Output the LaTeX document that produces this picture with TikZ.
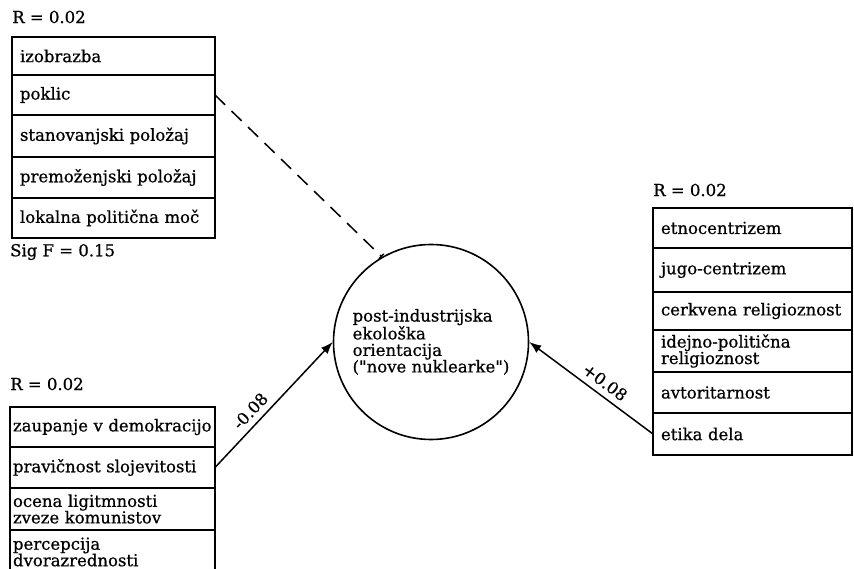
\documentclass[tikz,border=0pt]{standalone}
\usepackage{fontspec}
\setmainfont{DejaVu Serif}[Ligatures=TeXOff, FakeBold=0.7]
\usetikzlibrary{arrows.meta}
\newcommand\fs{\fontsize{16.5}{16.5}\selectfont}
\tikzset{
  rowbox/.style={draw, line width=1.6pt, anchor=north west, align=left,
    inner xsep=8pt, inner ysep=0pt, outer sep=0pt, font=\fs, text width=#1},
  lbl/.style={anchor=west, inner sep=0pt, font=\fs},
  conn/.style={line width=1.5pt},
  tip/.style={-{Latex[length=12pt,width=9pt]}},
  coef/.style={sloped, above, font=\fs, inner sep=6pt}
}
\begin{document}
\begin{tikzpicture}[x=1pt,y=-1pt]
\clip (0,0) rectangle (854,569);
\fill[white] (0,0) rectangle (854,569);

% top-left group
\node[lbl] (rt) at (12,17) {R = 0.02};
\node[rowbox=187pt, minimum height=38pt] (t1) at (12,37) {izobrazba};
\node[rowbox=187pt, minimum height=40pt] (t2) at (12,75) {poklic};
\node[rowbox=187pt, minimum height=42pt] (t3) at (12,115) {stanovanjski položaj};
\node[rowbox=187pt, minimum height=41pt] (t4) at (12,157) {premoženjski položaj};
\node[rowbox=187pt, minimum height=40pt] (t5) at (12,198) {lokalna politična moč};
\node[lbl] (sf) at (10,252) {Sig F = 0.15};

% bottom-left group
\node[lbl] (rb) at (10,384) {R = 0.02};
\node[rowbox=199pt, inner xsep=3pt, minimum height=40pt] (b1) at (10,407) {zaupanje v demokracijo};
\node[rowbox=199pt, inner xsep=3pt, minimum height=41pt] (b2) at (10,447) {pravičnost slojevitosti};
\node[rowbox=199pt, inner xsep=3pt, minimum height=42pt] (b3) at (10,488) {ocena ligitmnosti\\zveze komunistov};
\node[rowbox=199pt, inner xsep=3pt, minimum height=44pt] (b4) at (10,530) {percepcija\\dvorazrednosti};

% right group
\node[lbl] (rr) at (653,190) {R = 0.02};
\node[rowbox=183pt, minimum height=40pt] (r1) at (653,208) {etnocentrizem};
\node[rowbox=183pt, minimum height=44pt] (r2) at (653,248) {jugo-centrizem};
\node[rowbox=183pt, minimum height=38pt] (r3) at (653,292) {cerkvena religioznost};
\node[rowbox=183pt, minimum height=42pt] (r4) at (653,330) {idejno-politična\\religioznost};
\node[rowbox=183pt, minimum height=41pt] (r5) at (653,372) {avtoritarnost};
\node[rowbox=183pt, minimum height=42pt] (r6) at (653,413) {etika dela};

% central circle
\node[circle, draw, line width=1.6pt, minimum size=195pt, inner sep=0pt,
      align=left, font=\fs] (c) at (431,342)
  {post-industrijska\\ekološka\\orientacija\\("nove nuklearke")};

% connectors
\draw[conn, dash pattern=on 14pt off 9pt, -{Bar[width=7pt]}] (t2.east) -- (c.120);
\draw[conn, tip] (b2.east) -- node[coef, pos=0.38] {-0.08} (c.west);
\draw[conn, tip] (r6.west) -- node[coef, pos=0.45] {+0.08} (c.east);
\end{tikzpicture}
\end{document}
